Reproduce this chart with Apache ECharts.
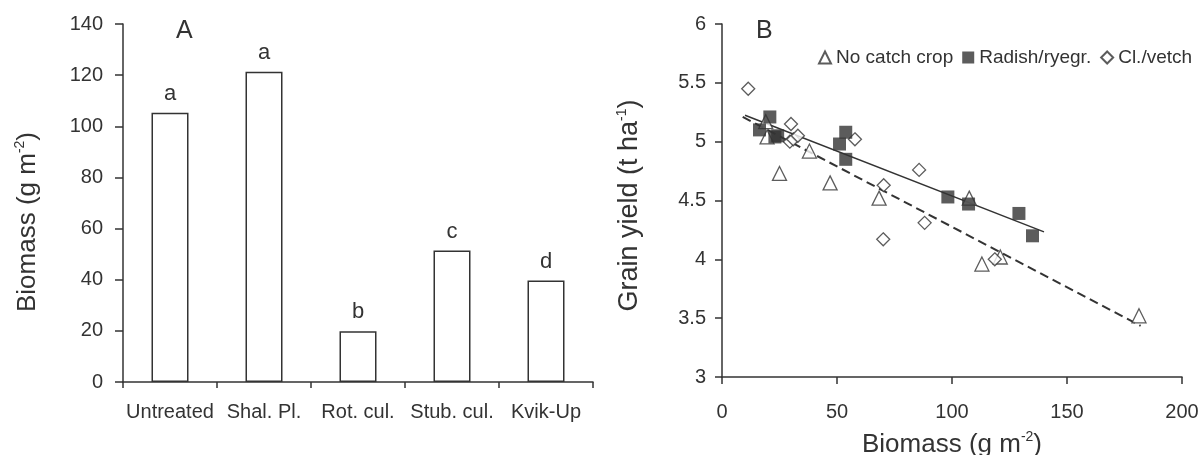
<!DOCTYPE html>
<html>
<head>
<meta charset="utf-8">
<script src="https://cdn.jsdelivr.net/npm/echarts@6/dist/echarts.min.js"></script>
<style>
html,body{margin:0;padding:0;background:#fff;}
#c{width:1201px;height:455px;}
</style>
</head>
<body>
<div id="c"></div>
<script>
// Panel A data
var treatments = ['Untreated', 'Shal. Pl.', 'Rot. cul.', 'Stub. cul.', 'Kvik-Up'];
var biomass = [105.3, 121.3, 19.8, 51.4, 39.7];
var sigLetters = ['a', 'a', 'b', 'c', 'd'];

// Panel B data: [biomass g m-2, grain yield t ha-1]
var noCatchCrop = [[19.6, 5.04], [19.0, 5.17], [25.0, 4.73], [38.0, 4.92], [47.0, 4.65], [68.3, 4.52], [107.5, 4.52], [113.0, 3.96], [121.0, 4.02], [181.3, 3.52]];
var radishRyegr = [[16.3, 5.10], [20.8, 5.21], [23.0, 5.04], [24.2, 5.05], [51.1, 4.98], [53.8, 5.08], [53.8, 4.85], [98.2, 4.53], [107.2, 4.47], [129.1, 4.39], [135.0, 4.20]];
var cloverVetch = [[11.4, 5.45], [30.0, 5.15], [29.5, 5.00], [31.0, 5.02], [33.0, 5.05], [57.8, 5.02], [70.3, 4.63], [70.1, 4.17], [85.7, 4.76], [88.1, 4.31], [118.6, 4.00]];
var fitRadish = [[10, 5.224], [140, 4.233]];
var fitOther = [[9, 5.21], [182, 3.435]];

var seriesNames = ['No catch crop', 'Radish/ryegr.', 'Cl./vetch'];
var xTicksB = [0, 200, 50];
var yTicksB = [3, 6, 0.5];
var yTicksA = [0, 140, 20];

var ink = '#333';
var font = 'Liberation Sans, Arial, sans-serif';
var axisCommon = {
  axisLine: {show: true, lineStyle: {color: ink, width: 1.5}},
  axisTick: {show: true, inside: false, lineStyle: {color: ink, width: 1.5}},
  splitLine: {show: false},
  axisLabel: {color: ink, fontSize: 20, fontFamily: font}
};
function merge(a, b) { return Object.assign({}, JSON.parse(JSON.stringify(a)), b); }

var chart = echarts.init(document.getElementById('c'), null, {renderer: 'canvas'});
chart.setOption({
  animation: false,
  backgroundColor: '#fff',
  textStyle: {fontFamily: font},
  grid: [
    {left: 123, right: 608, top: 24, bottom: 73, containLabel: false, outerBoundsMode: 'none'},
    {left: 722, right: 19, top: 24, bottom: 78, containLabel: false, outerBoundsMode: 'none'}
  ],
  legend: {
    data: seriesNames,
    left: 818, top: 48, width: 383, padding: 0,
    itemWidth: 12, itemHeight: 12, itemGap: 9,
    textStyle: {fontSize: 19, color: ink, fontFamily: font}
  },
  xAxis: [
    merge(axisCommon, {
      type: 'category', gridIndex: 0, data: treatments,
      axisTick: {show: true, length: 6, lineStyle: {color: ink, width: 1.5}},
      axisLabel: {color: ink, fontSize: 20, fontFamily: font, margin: 20, interval: 0}
    }),
    merge(axisCommon, {
      type: 'value', gridIndex: 1, min: xTicksB[0], max: xTicksB[1], interval: xTicksB[2],
      axisTick: {show: true, length: 7, lineStyle: {color: ink, width: 1.5}},
      axisLabel: {color: ink, fontSize: 20, fontFamily: font, margin: 25},
      name: '{a|Biomass (g m}{s|-2}{a|)}',
      nameLocation: 'middle', nameGap: 53,
      nameTextStyle: {rich: {a: {fontSize: 26, color: ink, fontFamily: font, lineHeight: 30}, s: {fontSize: 14, color: ink, fontFamily: font, verticalAlign: 'top', lineHeight: 30}}}
    })
  ],
  yAxis: [
    merge(axisCommon, {
      type: 'value', gridIndex: 0, min: yTicksA[0], max: yTicksA[1], interval: yTicksA[2],
      axisTick: {show: true, length: 8, lineStyle: {color: ink, width: 1.5}},
      axisLabel: {color: ink, fontSize: 20, fontFamily: font, margin: 20},
      name: '{a|Biomass (g m}{s|-2}{a|)}',
      nameLocation: 'middle', nameRotate: 90, nameGap: 80,
      nameTextStyle: {padding: [0, 38, 0, 0], rich: {a: {fontSize: 26, color: ink, fontFamily: font, lineHeight: 30}, s: {fontSize: 14, color: ink, fontFamily: font, verticalAlign: 'top', lineHeight: 30}}}
    }),
    merge(axisCommon, {
      type: 'value', gridIndex: 1, min: yTicksB[0], max: yTicksB[1], interval: yTicksB[2],
      axisTick: {show: true, length: 7, lineStyle: {color: ink, width: 1.5}},
      axisLabel: {color: ink, fontSize: 20, fontFamily: font, margin: 16},
      name: '{a|Grain yield (t ha}{s|-1}{a|)}',
      nameLocation: 'middle', nameRotate: 90, nameGap: 77,
      nameTextStyle: {padding: [0, 10, 0, 0], rich: {a: {fontSize: 27, color: ink, fontFamily: font, lineHeight: 30}, s: {fontSize: 14, color: ink, fontFamily: font, verticalAlign: 'top', lineHeight: 30}}}
    })
  ],
  graphic: [
    {type: 'text', left: 176, top: 19, style: {text: 'A', fontSize: 25, fill: ink, fontFamily: font}},
    {type: 'text', left: 756, top: 19, style: {text: 'B', fontSize: 25, fill: ink, fontFamily: font}}
  ],
  series: [
    {
      type: 'bar', xAxisIndex: 0, yAxisIndex: 0, data: biomass, barWidth: 37,
      itemStyle: {color: '#fff', borderColor: ink, borderWidth: 1.5},
      label: {show: true, position: 'top', distance: 8, fontSize: 22, color: ink, fontFamily: font,
        formatter: function (p) { return sigLetters[p.dataIndex]; }}
    },
    {
      type: 'line', xAxisIndex: 1, yAxisIndex: 1, data: fitOther, showSymbol: false, symbol: 'none',
      lineStyle: {color: ink, width: 2, type: [9, 5]}, silent: true, z: 1
    },
    {
      type: 'line', xAxisIndex: 1, yAxisIndex: 1, data: fitRadish, showSymbol: false, symbol: 'none',
      lineStyle: {color: ink, width: 1.5, type: 'solid'}, silent: true, z: 1
    },
    {
      name: seriesNames[0], type: 'scatter', xAxisIndex: 1, yAxisIndex: 1, data: noCatchCrop,
      symbol: 'triangle', symbolSize: 14,
      itemStyle: {color: '#fff', borderColor: ink, borderWidth: 1.3}, z: 2
    },
    {
      name: seriesNames[2], type: 'scatter', xAxisIndex: 1, yAxisIndex: 1, data: cloverVetch,
      symbol: 'diamond', symbolSize: 13,
      itemStyle: {color: '#fff', borderColor: ink, borderWidth: 1.3}, z: 3
    },
    {
      name: seriesNames[1], type: 'scatter', xAxisIndex: 1, yAxisIndex: 1, data: radishRyegr,
      symbol: 'rect', symbolSize: 13,
      itemStyle: {color: ink, borderColor: ink, borderWidth: 0}, z: 4
    }
  ]
});
</script>
</body>
</html>
